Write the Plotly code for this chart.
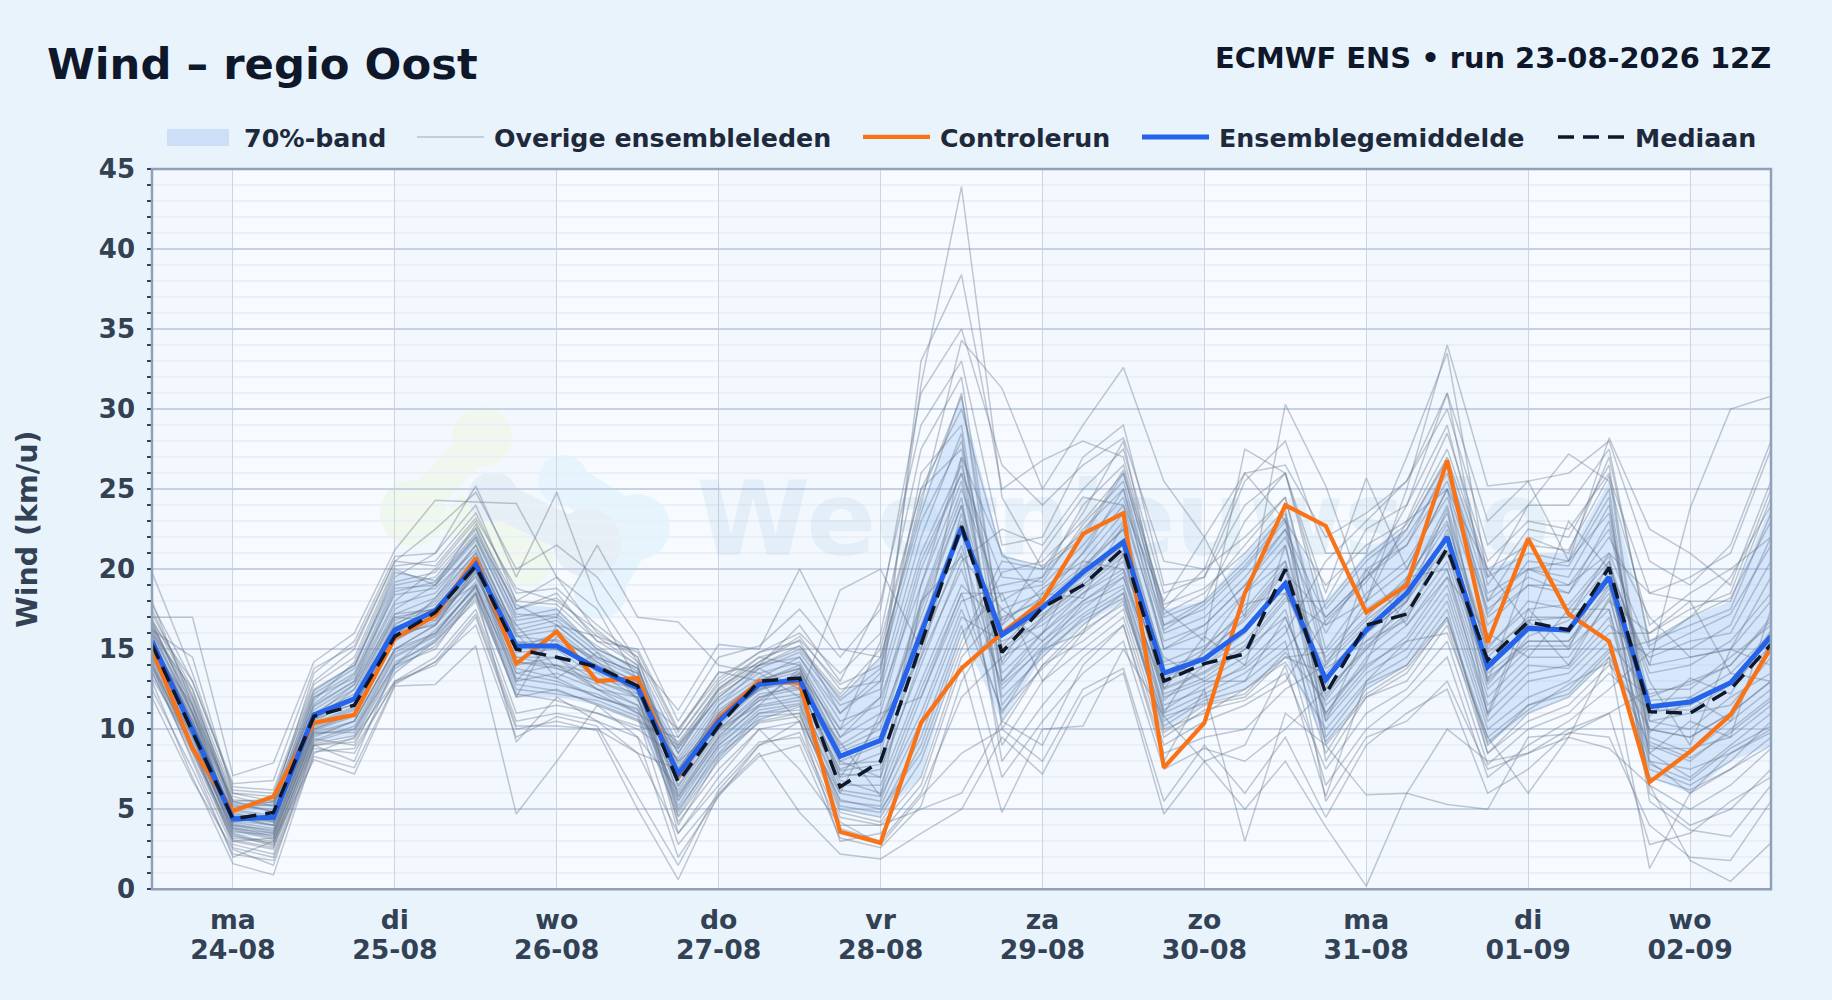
import plotly.graph_objects as go

times = ["2026-08-23 12:00","2026-08-23 18:00"]
for d in ["24","25","26","27","28","29","30","31"]:
    for h in ["00","06","12","18"]:
        times.append(f"2026-08-{d} {h}:00")
for h in ["00","06","12","18"]:
    times.append(f"2026-09-01 {h}:00")
for h in ["00","06","12"]:
    times.append(f"2026-09-02 {h}:00")

tick_dates = ["2026-08-24","2026-08-25","2026-08-26","2026-08-27","2026-08-28","2026-08-29","2026-08-30","2026-08-31","2026-09-01","2026-09-02"]
date_labels = ["24-08","25-08","26-08","27-08","28-08","29-08","30-08","31-08","01-09","02-09"]
day_labels = ["ma","di","wo","do","vr","za","zo","ma","di","wo"]

mean_values = [15.5,10,4.4,4.5,10.9,11.9,16.2,17.4,20.3,15.2,15.2,13.8,12.6,7.2,10.5,12.8,13.1,8.3,9.3,16,22.6,15.9,17.6,19.8,21.7,13.5,14.4,16.2,19.1,13.1,16.2,18.5,22,13.9,16.3,16.2,19.5,11.4,11.7,12.9,15.8]
control_values = [15,8.8,4.9,5.8,10.4,10.9,15.7,17.1,20.7,14.1,16.1,13,13.2,7,10.7,13,12.9,3.6,2.9,10.4,13.8,16,18,22.2,23.5,7.6,10.4,18.5,24,22.7,17.3,19,26.8,15.4,21.9,17.2,15.5,6.7,8.6,10.9,15.1]
median_values = [15.3,9.9,4.4,4.8,10.8,11.5,15.8,17.3,20.2,15,14.5,13.9,12.7,6.7,10.2,13,13.2,6.4,8,15.3,22.7,14.8,17.6,19,21.3,13,14.1,14.7,20,12.2,16.5,17.2,21.3,14.3,16.7,16.2,20.1,11.1,11,12.5,15.3]
band_high = [16.5,11.5,5.5,5.5,12.5,14,19.9,19.3,22.5,17.8,17.6,15,14,9.2,12,14,15,12,14.5,24,30.8,21,20,22,26,17.5,18,21,23.5,18,21,22.5,27,20,21,21,25.5,15.5,17,18,24]
band_low = [13.5,8.5,3.3,3.3,9.2,9.5,13.5,15.5,18.3,12,12,11.5,10.5,4.8,8,10.5,11.5,5,4.5,7,16,10.5,14.5,16.5,18,10,11.5,12.5,14.5,9,12.5,14,17,9,11,12,14.5,7,6,8,9]

member_01 = [19.8,13.5,6.2,6.0,12.5,14.0,19.5,21.0,24.0,18.0,19.5,16.0,14.5,9.5,13.0,14.8,15.5,11.0,13.5,31.5,43.9,24.5,20.0,23.5,28.0,16.5,18.0,23.0,26.0,16.5,19.5,24.0,31.0,18.0,22.0,21.0,27.0,15.5,17.0,19.5,24.0]
member_02 = [17.0,17.0,7.1,7.9,14.2,16.0,21.2,24.3,24.2,24.1,19.5,17.5,13.0,8.5,12.5,14.5,14.0,9.5,12.0,33.0,38.4,25.0,26.8,28.0,27.0,17.5,15.5,27.5,26.0,18.5,25.7,20.0,25.0,20.0,16.5,23.0,20.0,14.0,23.8,30.0,30.8]
member_03 = [16.2,14.5,6.0,5.5,13.5,15.5,20.8,21.0,25.2,19.5,24.8,18.0,14.2,11.2,15.3,15.0,20.0,15.0,14.5,24.0,34.3,31.3,25.0,29.0,32.6,25.5,22.0,17.0,30.3,25.2,18.0,25.0,34.0,25.2,25.5,20.5,28.2,22.5,21.0,19.0,25.5]
member_04 = [14.0,8.0,2.0,3.0,8.1,7.2,12.7,12.8,15.2,4.7,8.0,11.5,9.5,2.0,5.8,9.0,10.5,3.0,3.5,6.5,14.0,4.8,10.0,10.2,15.0,10.8,8.0,9.0,14.0,5.8,13.0,15.5,16.0,9.5,6.0,9.5,14.5,1.3,6.0,7.5,9.0]
member_05 = [13.0,7.0,1.6,0.9,8.5,9.5,13.0,14.0,17.0,10.0,10.5,9.9,5.0,0.6,6.0,8.5,4.8,2.2,1.9,3.5,5.0,9.5,7.2,12.0,13.5,4.7,8.0,5.0,8.0,3.9,0.2,6.0,10.0,8.0,8.5,9.5,8.8,6.5,1.8,0.5,2.9]
member_06 = [12.0,6.8,2.5,1.5,9.0,8.0,14.0,15.0,18.5,9.2,12.0,10.5,8.5,3.5,7.0,10.0,7.5,4.0,4.0,5.0,6.0,10.5,9.0,14.0,16.5,8.0,12.5,3.0,11.0,9.0,5.9,6.0,5.3,5.0,9.5,9.7,11.0,2.8,3.5,5.5,7.0]
member_07 = [15.0,11.5,4.0,3.5,10.5,12.5,17.5,19.0,22.0,16.5,17.0,21.5,17.0,16.7,14.0,13.5,12.0,18.7,20.0,15.0,27.0,21.0,18.0,21.0,25.0,15.0,16.5,19.0,22.5,17.0,19.5,22.0,26.0,17.0,19.0,18.5,22.0,17.0,14.5,15.0,18.0]
member_08 = [16.0,12.5,5.0,5.5,11.5,13.0,18.0,20.0,23.0,17.5,18.5,15.5,15.0,10.0,13.5,14.0,16.5,13.0,18.0,29.0,33.0,21.5,22.0,27.0,29.0,19.0,19.5,25.5,28.0,21.0,21.0,27.0,33.5,19.5,24.0,27.2,25.5,16.5,18.5,20.0,22.0]
member_09 = [14.5,9.5,3.5,2.8,9.5,10.5,15.0,16.0,19.0,13.0,13.5,12.5,11.0,9.2,12.5,14.2,15.8,12.5,13.0,26.0,29.0,13.0,15.5,17.5,19.5,11.5,12.5,14.0,16.5,8.5,12.5,14.0,17.5,8.5,11.0,12.0,14.5,10.0,9.5,11.0,13.0]
member_10 = [16.8,11.0,5.5,4.8,11.0,12.5,17.0,17.5,20.5,15.0,16.0,14.0,12.5,6.0,9.5,12.0,12.8,7.0,7.5,14.0,20.5,22.5,21.5,25.0,27.5,18.5,19.5,24.0,26.0,17.5,20.5,22.5,27.0,19.5,21.0,20.5,25.0,8.0,7.5,8.5,9.8]
member_11 = [15.2,10.5,4.5,4.0,10.0,11.0,15.5,17.0,19.5,14.5,14.0,13.5,12.0,5.0,8.5,11.0,11.2,5.5,5.2,10.5,17.0,15.5,16.5,18.5,20.5,13.0,14.0,15.5,18.5,13.0,16.0,18.0,22.0,14.0,16.5,16.0,19.5,14.0,14.5,15.0,19.5]
member_12 = [14.0,9.0,3.8,3.2,9.8,9.8,14.5,15.8,18.5,12.0,12.5,11.5,10.5,8.8,12.0,14.0,14.5,11.0,13.0,22.0,28.5,10.0,14.0,15.5,17.5,9.5,11.2,11.8,13.5,7.5,11.0,12.5,15.5,7.8,10.0,11.0,13.5,11.2,11.2,12.8,15.2]
member_13 = [17.5,12.0,5.8,5.2,12.0,13.5,19.0,19.5,22.5,17.0,17.5,15.0,13.8,7.8,11.2,13.0,13.8,8.8,10.0,18.0,25.0,18.0,19.5,22.5,25.0,16.5,17.5,20.0,23.0,19.0,21.5,23.0,28.5,20.5,23.0,22.5,26.0,8.8,8.8,9.5,11.5]
member_14 = [15.8,10.2,4.8,4.2,10.8,12.0,16.5,18.0,21.0,15.5,15.0,14.0,13.0,3.5,6.5,9.2,9.5,3.8,3.0,6.0,12.0,14.5,16.0,18.0,19.8,12.2,13.2,15.0,17.0,11.0,14.5,16.5,20.0,12.0,14.5,14.5,18.0,16.0,18.0,18.0,24.5]
member_15 = [13.5,8.5,3.0,2.5,9.0,9.2,13.5,15.5,18.0,11.0,11.5,11.0,10.0,8.2,11.8,13.5,14.2,10.0,12.0,19.0,27.0,11.5,14.8,16.8,18.2,10.2,11.8,12.5,14.2,10.0,13.0,14.5,18.0,10.0,12.0,13.0,15.5,12.2,12.8,14.0,16.8]
member_16 = [16.5,12.0,5.2,5.0,11.8,14.2,20.0,19.0,22.8,18.0,17.8,15.5,14.0,5.8,9.2,11.5,12.0,6.5,6.5,13.0,19.0,16.5,18.8,20.5,23.5,15.5,16.5,19.0,22.0,16.0,20.0,21.5,25.5,18.0,20.0,19.5,24.0,9.2,8.2,9.8,11.8]
member_17 = [15.5,11.0,4.2,3.8,10.2,11.2,16.0,17.0,20.0,14.0,14.5,13.0,12.2,10.0,13.2,14.8,16.0,13.5,16.0,27.5,32.0,15.8,17.2,19.0,21.2,13.2,14.4,16.2,19.2,14.5,17.0,19.5,23.0,15.0,18.0,17.5,20.5,5.5,3.7,3.3,6.5]
member_18 = [14.8,9.8,3.3,3.0,9.2,10.0,14.0,16.2,18.8,13.5,13.0,12.0,11.2,6.8,10.2,12.5,13.0,7.8,8.0,15.0,21.5,12.5,15.2,17.2,18.8,11.0,12.2,13.5,15.5,6.5,10.0,12.0,14.5,7.0,9.0,10.5,12.5,14.8,16.0,17.2,21.5]
member_19 = [18.0,11.5,5.5,5.6,12.2,13.8,19.8,19.3,22.2,17.8,16.5,14.5,13.5,4.0,8.2,10.8,11.0,4.8,4.2,8.0,15.0,19.8,20.5,23.0,26.0,17.2,18.5,21.5,24.5,15.0,18.5,20.5,24.5,16.5,19.0,19.0,22.5,11.8,12.0,13.5,16.0]
member_20 = [15.3,10.8,4.6,4.4,10.6,11.6,16.8,17.8,20.8,15.8,15.5,13.8,12.8,8.5,12.2,13.8,14.8,11.5,12.5,21.0,26.5,16.8,18.2,20.2,22.5,14.2,15.2,17.2,20.2,11.5,14.0,15.5,19.0,11.0,13.5,14.0,17.0,7.8,6.8,8.8,10.2]
member_21 = [13.8,8.8,2.8,2.2,8.8,8.5,13.0,14.5,17.5,10.5,11.0,10.5,9.5,6.2,9.8,11.8,12.2,7.2,7.0,14.5,20.0,12.8,15.0,17.8,19.0,11.2,12.8,13.8,16.0,20.5,23.0,25.5,30.0,21.5,24.0,24.0,27.5,15.2,17.0,18.2,23.0]
member_22 = [16.0,11.2,5.0,4.6,11.2,12.8,17.8,18.5,21.5,16.0,16.5,14.5,13.5,4.8,8.8,10.6,11.4,5.2,4.8,9.5,16.5,7.0,10.5,13.5,15.5,7.5,8.8,8.0,10.0,12.5,15.0,18.0,21.5,13.5,15.5,15.5,18.5,8.0,6.0,8.5,10.0]
member_23 = [14.5,9.2,3.6,3.4,9.6,10.5,15.0,16.5,19.2,14.2,13.8,12.8,11.5,8.0,11.5,13.2,14.5,10.5,11.5,20.5,26.0,19.5,19.2,22.8,25.5,16.2,17.8,20.2,23.2,8.0,12.0,13.0,16.5,8.5,10.5,11.5,14.0,12.0,13.0,14.0,17.0]
member_24 = [17.2,12.5,6.0,5.8,12.8,14.5,20.2,20.5,23.5,18.5,18.8,16.5,14.5,7.2,10.6,12.6,13.2,8.4,9.2,16.5,23.0,15.2,17.8,19.2,21.8,12.8,14.8,16.8,19.8,17.0,19.5,21.5,26.5,18.5,20.0,20.5,23.5,10.5,10.0,12.0,13.5]
member_25 = [15.6,10.6,4.3,4.0,10.4,11.4,16.2,17.5,20.2,14.8,15.0,13.2,12.5,5.2,9.0,11.2,11.6,6.2,5.8,11.0,17.5,11.2,13.8,16.2,17.8,10.8,11.6,12.2,14.8,11.8,15.0,17.0,20.5,12.5,15.0,15.0,17.5,7.0,6.2,7.5,9.5]
member_26 = [13.2,9.0,3.2,2.9,9.4,9.0,13.8,15.2,18.2,12.2,11.8,11.0,10.2,9.5,12.8,14.5,15.2,12.2,15.0,25.0,30.0,20.8,20.2,22.2,26.2,17.8,18.8,21.0,23.8,9.5,12.8,14.0,17.0,9.5,11.5,12.2,14.8,15.5,16.5,17.5,23.5]
member_27 = [16.4,11.8,5.4,5.2,12.0,13.2,18.8,19.0,21.8,16.8,17.2,15.0,13.8,7.5,11.0,13.1,13.8,9.0,10.5,17.0,24.0,14.8,16.8,18.8,20.8,12.6,13.6,15.2,18.2,16.5,18.0,20.0,25.0,17.5,19.5,18.5,23.0,11.0,11.5,13.0,15.5]
member_28 = [15.1,10.0,4.1,3.6,9.9,10.8,15.6,16.8,19.6,14.5,14.5,12.5,12.0,5.6,9.4,11.4,11.8,6.8,6.0,12.5,18.5,11.0,15.0,16.0,18.0,10.0,11.0,12.5,14.5,13.5,16.2,18.2,22.2,14.2,16.2,16.2,19.8,6.5,5.0,6.5,8.8]
member_29 = [14.2,8.6,3.4,2.7,9.1,9.6,14.2,15.4,18.4,12.5,12.2,11.8,10.8,2.8,5.9,8.3,9.0,3.2,2.6,5.2,13.0,17.0,18.0,20.0,23.0,14.0,14.5,17.0,20.0,10.5,13.5,15.0,18.5,10.5,13.0,13.5,16.0,16.0,17.5,18.5,25.0]
member_30 = [16.6,11.4,5.3,4.9,11.6,13.4,18.4,18.8,21.2,16.2,16.8,14.8,13.2,8.8,12.4,14.0,15.2,11.8,13.8,23.0,28.0,15.0,17.0,19.0,21.0,12.5,13.5,15.0,18.0,18.0,22.5,24.0,29.0,19.0,22.5,22.0,26.5,9.5,8.5,10.5,12.5]
member_31 = [15.4,10.3,4.4,4.2,10.3,11.3,16.4,17.2,20.4,15.2,15.3,13.6,12.4,7.6,10.8,12.9,13.6,8.6,9.6,17.8,24.5,10.5,14.0,16.5,18.5,9.8,11.5,12.0,14.5,14.8,17.5,19.2,23.5,15.2,17.5,17.8,20.8,8.5,7.0,9.0,11.0]
member_32 = [14.6,9.6,3.7,3.1,9.3,10.2,14.8,16.0,18.9,13.2,12.8,12.2,11.0,4.6,8.4,10.4,10.8,5.6,5.0,8.5,15.5,20.5,20.0,22.0,26.0,17.0,18.0,20.5,23.5,10.8,13.8,15.8,19.5,11.5,14.0,13.8,16.5,14.5,15.5,16.0,20.5]
member_33 = [17.8,13.0,6.4,6.2,13.0,15.0,20.5,20.2,23.2,18.8,18.0,16.2,14.2,9.0,12.6,14.2,15.6,12.8,14.0,24.5,30.8,16.0,17.5,19.5,21.5,13.0,14.0,16.0,19.0,5.5,9.5,10.5,13.0,7.5,8.5,10.0,11.0,12.5,12.5,14.5,16.5]
member_34 = [15.9,11.0,4.9,4.5,10.9,12.2,17.2,18.2,21.0,15.8,16.2,14.2,12.9,6.4,10.0,12.2,12.6,7.4,7.8,15.5,21.0,9.0,13.0,15.0,17.0,9.0,10.5,11.5,13.0,16.8,19.2,22.5,26.8,17.2,20.5,20.2,24.5,6.0,4.0,5.0,7.5]
member_35 = [14.9,9.4,3.9,3.3,9.7,10.0,14.6,15.9,19.0,13.8,13.2,12.0,11.3,5.5,9.0,11.0,11.5,6.0,5.5,12.0,18.0,19.0,19.5,24.0,26.5,17.5,20.0,22.0,24.5,14.2,16.8,18.8,22.8,14.8,16.8,17.0,20.2,13.5,14.0,15.5,18.5]
member_36 = [13.6,8.2,2.6,2.0,8.6,8.8,12.9,14.2,17.2,10.2,10.2,10.0,8.5,7.5,11.0,13.0,14.0,9.5,11.0,20.0,26.0,13.5,16.0,18.5,20.0,12.0,13.0,14.5,17.5,9.2,12.2,13.8,16.8,9.2,11.2,12.8,14.2,9.0,8.0,10.0,12.0]
member_37 = [16.3,11.6,5.1,5.3,11.4,13.0,18.6,19.2,22.0,17.2,17.0,15.2,13.6,6.5,10.0,12.0,12.5,7.5,8.5,17.5,24.0,12.0,14.5,17.0,18.5,10.5,12.0,13.0,15.0,17.8,20.8,22.8,27.5,20.0,21.5,21.2,25.8,18.5,19.5,21.0,27.5]
member_38 = [15.7,10.4,4.7,4.3,10.7,11.8,16.6,17.6,20.6,15.4,15.6,14.4,13.2,4.5,8.0,10.5,11.0,5.0,4.5,9.0,16.0,18.5,19.0,21.5,24.5,16.0,17.0,19.5,22.5,12.2,15.2,17.2,21.2,13.2,15.2,15.2,18.8,10.5,11.0,11.5,14.5]
member_39 = [14.3,8.9,3.1,2.6,9.0,9.4,14.0,15.6,18.6,12.8,12.4,11.6,10.6,9.0,12.0,14.0,15.0,12.0,14.5,23.5,31.0,14.0,17.0,20.0,22.5,13.5,15.0,17.5,20.5,9.0,12.0,13.5,17.0,9.0,11.5,12.5,15.0,7.5,6.5,8.0,10.5]
member_40 = [16.9,12.2,5.6,5.4,12.4,14.0,19.2,19.8,22.6,17.5,18.2,15.8,14.0,7.0,10.5,12.5,13.5,8.0,9.0,16.0,22.5,8.0,11.5,14.5,16.5,8.5,9.5,10.0,12.5,14.0,16.5,19.0,24.0,14.5,17.0,17.0,21.0,15.0,15.0,16.5,22.0]
member_41 = [15.0,10.1,4.0,3.7,10.1,11.0,15.8,16.6,19.8,14.2,14.0,13.0,12.0,4.2,7.5,10.0,10.5,4.5,4.0,7.0,14.5,17.5,18.5,21.0,24.0,15.0,16.0,18.5,21.5,12.0,15.5,17.5,21.0,13.0,15.5,15.5,19.0,10.0,9.5,11.0,13.0]
member_42 = [12.5,7.5,2.2,1.8,8.3,7.6,12.8,14.2,16.5,9.5,10.8,10.2,5.8,1.5,6.2,9.0,9.8,4.2,2.8,5.8,8.5,10.0,8.0,12.5,13.8,5.5,9.0,6.0,9.5,4.5,9.0,11.0,12.5,6.0,7.5,9.8,9.5,4.0,2.0,1.8,5.5]
member_43 = [16.7,13.0,6.6,6.8,13.8,15.2,20.5,22.5,24.8,20.0,21.5,19.5,15.8,10.5,14.5,15.2,17.5,14.5,17.5,31.0,35.0,26.5,24.0,26.5,28.2,20.5,20.0,26.0,26.5,22.0,23.5,25.5,31.0,23.0,25.5,26.0,28.0,20.5,19.0,21.5,28.0]
member_44 = [14.0,9.0,3.0,3.2,9.8,10.5,15.0,16.5,20.0,13.5,14.0,12.5,11.5,5.8,9.6,11.8,13.5,10.0,15.5,25.0,27.5,16.5,21.0,24.5,24.0,18.0,22.0,26.0,23.0,14.0,18.0,23.0,25.0,13.0,20.0,19.0,21.0,18.5,18.0,13.5,13.0]
member_45 = [15.5,10.5,4.5,4.0,10.8,12.8,17.2,17.5,19.0,12.0,16.5,15.8,14.8,9.8,13.6,13.0,10.5,6.0,11.0,12.0,18.5,18.5,13.0,16.0,21.0,11.0,15.0,18.5,20.5,12.5,20.0,16.5,19.5,16.0,14.5,17.5,17.5,8.5,10.5,9.5,17.5]
member_46 = [16.2,11.0,4.2,4.6,11.0,11.5,15.8,18.2,21.5,16.0,13.2,14.8,11.8,8.0,10.0,11.5,13.8,8.0,7.0,19.0,25.5,13.0,16.0,20.5,20.0,14.5,13.0,13.0,17.0,11.0,14.2,19.5,20.0,11.0,17.5,15.0,20.5,13.0,9.0,15.0,14.0]
member_47 = [14.8,10.0,3.8,3.5,10.0,10.9,16.0,16.5,19.8,16.5,13.8,13.0,13.0,6.8,11.5,13.8,12.5,9.2,5.8,18.0,20.8,17.5,15.5,18.0,19.5,12.5,15.8,14.0,21.5,10.5,16.0,18.0,23.8,10.8,16.8,14.0,18.2,9.8,12.0,10.5,15.5]
member_48 = [15.0,9.9,4.4,4.3,10.4,12.0,17.0,16.8,20.0,13.0,15.8,14.2,12.2,7.0,10.9,12.4,13.4,7.0,10.5,14.5,23.5,14.2,18.5,18.2,22.8,11.8,14.0,17.8,18.5,13.8,15.5,16.8,22.5,12.8,15.8,16.8,19.0,10.8,13.2,12.2,16.2]
members = [member_01,member_02,member_03,member_04,member_05,member_06,member_07,member_08,member_09,member_10,member_11,member_12,
           member_13,member_14,member_15,member_16,member_17,member_18,member_19,member_20,member_21,member_22,member_23,member_24,
           member_25,member_26,member_27,member_28,member_29,member_30,member_31,member_32,member_33,member_34,member_35,member_36,
           member_37,member_38,member_39,member_40,member_41,member_42,member_43,member_44,member_45,member_46,member_47,member_48]

W, H = 1832, 1000
FONT = "DejaVu Sans"
BG = "#E8F3FB"
SWATCH = "#CCDFF7"
fig = go.Figure()

fig.add_trace(go.Scatter(x=["2026-08-29 12:00"], y=[22.5], mode="text", text=["Weernieuws.io"], showlegend=False, hoverinfo="skip",
                         textposition="middle center",
                         textfont=dict(family=FONT, size=103, weight=700, color="rgba(30,110,170,0.07)")))
fig.add_trace(go.Scatter(x=times, y=band_low, mode="lines", line=dict(width=0, color="rgba(0,0,0,0)"), showlegend=False, hoverinfo="skip"))
fig.add_trace(go.Scatter(x=times, y=band_high, mode="lines", line=dict(width=0, color="rgba(0,0,0,0)"), fill="tonexty",
                         fillcolor="rgba(147,190,245,0.30)", showlegend=False, legendgroup="band", hoverinfo="skip"))
# legend entry of the band, opaque so it merges with the fuller swatch below
fig.add_trace(go.Scatter(x=[times[0]], y=[None], mode="lines", line=dict(width=0, color="rgba(0,0,0,0)"), fill="toself",
                         fillcolor=SWATCH, name="\u2009\u200970%-band", legend="legend", legendgroup="band"))
for i, m in enumerate(members):
    fig.add_trace(go.Scatter(x=times, y=m, mode="lines", name="\u2009Overige ensembleleden", legend="legend2", legendgroup="members", showlegend=i == 0,
                             line=dict(color="rgba(100,116,139,0.38)", width=1.5), hoverinfo="skip"))
fig.add_trace(go.Scatter(x=times, y=control_values, mode="lines", name="\u2009Controlerun", legend="legend3", line=dict(color="#F97316", width=4.2)))
fig.add_trace(go.Scatter(x=times, y=mean_values, mode="lines", name="\u2009Ensemblegemiddelde", legend="legend4", line=dict(color="#2563EB", width=5)))
fig.add_trace(go.Scatter(x=times, y=median_values, mode="lines", name="\u2009Mediaan", legend="legend5", line=dict(color="#0F172A", width=3.5, dash="16px,9px")))
# weekday row of the tick labels lives on an overlaid axis so its line spacing can be set
fig.add_trace(go.Scatter(x=tick_dates, y=[None] * len(tick_dates), xaxis="x2", mode="lines", showlegend=False, hoverinfo="skip"))

shapes = []
stripe_edges = ["2026-08-23 12:00"] + tick_dates + ["2026-09-02 12:00"]
for i in range(len(stripe_edges) - 1):
    if i % 2 == 0:
        shapes.append(dict(type="rect", xref="x", yref="y domain", x0=stripe_edges[i], x1=stripe_edges[i + 1], y0=0, y1=1,
                           fillcolor="rgba(200,220,240,0.08)", line_width=0, layer="below"))

def px_circle(cx, cy, r, col):
    return dict(type="circle", xref="paper", yref="paper", x0=(cx - r) / W, x1=(cx + r) / W,
                y0=1 - (cy + r) / H, y1=1 - (cy - r) / H, fillcolor=col, line_width=0, layer="below")

def px_line(x0, y0, x1, y1, w, col):
    return dict(type="line", xref="paper", yref="paper", x0=x0 / W, x1=x1 / W, y0=1 - y0 / H, y1=1 - y1 / H,
                line=dict(color=col, width=w), layer="below")

green = "#F0F7EC"
grey = "#E6EEF6"
blue = "#E5F4FD"
shapes += [px_line(482, 437, 413, 513, 34, green), px_circle(482, 437, 30, green), px_circle(413, 513, 33, green),
           px_line(450, 510, 527, 560, 40, green), px_circle(527, 560, 26, green),
           px_line(563, 480, 637, 527, 40, blue), px_circle(563, 480, 25, blue), px_circle(637, 527, 33, blue),
           px_line(637, 527, 600, 593, 40, blue), px_circle(600, 593, 26, blue),
           px_line(493, 497, 587, 543, 36, grey), px_circle(493, 497, 25, grey), px_circle(587, 543, 34, grey)]
shapes.append(dict(type="rect", xref="paper", yref="paper", x0=167 / W, x1=229 / W, y0=1 - 146 / H, y1=1 - 129 / H,
                   fillcolor=SWATCH, line_width=0, layer="above"))
# frame centred on the plot edges, so that zero sits on the bottom line
shapes.append(dict(type="rect", xref="x domain", yref="y domain", x0=0, x1=1, y0=0, y1=1,
                   fillcolor="rgba(0,0,0,0)", line=dict(color="#8FA0B8", width=2.5), layer="above"))

def legend_at(px, item=67):
    return dict(x=(px - 5) / W, xanchor="left", y=1 - 137 / H, yanchor="middle", bgcolor="rgba(0,0,0,0)", borderwidth=0,
                font=dict(family=FONT, size=25.3, color="#1E293B", weight=700), itemwidth=item)

fig.update_layout(
    width=W, height=H, autosize=False,
    margin=dict(l=0, r=0, t=0, b=0, autoexpand=False),
    paper_bgcolor=BG,
    plot_bgcolor="#F7FBFF",
    font=dict(family=FONT, size=25, color="#334155", weight=700),
    showlegend=True,
    legend=legend_at(167, 62), legend2=legend_at(417), legend3=legend_at(863), legend4=legend_at(1142), legend5=legend_at(1558),
    shapes=shapes,
    annotations=[
        dict(text="Wind – regio Oost", xref="paper", yref="paper", x=45 / W, y=1 - 64 / H, xanchor="left", yanchor="middle",
             showarrow=False, font=dict(family=FONT, size=43.3, color="#0F172A", weight=700)),
        dict(text="ECMWF ENS • run 23-08-2026 12Z", xref="paper", yref="paper", x=1773 / W, y=1 - 58 / H, xanchor="right", yanchor="middle",
             showarrow=False, font=dict(family=FONT, size=28.9, color="#0F172A", weight=700)),
    ],
    xaxis=dict(type="date", domain=[152 / W, 1771 / W], range=["2026-08-23 12:00", "2026-09-02 12:00"], automargin=False,
               tickmode="array", tickvals=tick_dates, ticktext=date_labels,
               tickfont=dict(family=FONT, size=26.7, color="#334155", weight=700),
               showgrid=True, gridcolor="#CDD5E3", gridwidth=1, ticks="", ticklabelstandoff=42,
               showline=False, zeroline=False),
    xaxis2=dict(type="date", overlaying="x", side="bottom", anchor="y", range=["2026-08-23 12:00", "2026-09-02 12:00"], automargin=False,
                tickmode="array", tickvals=tick_dates, ticktext=day_labels,
                tickfont=dict(family=FONT, size=26.7, color="#334155", weight=700),
                showgrid=False, ticks="", ticklabelstandoff=12, showline=False, zeroline=False),
    yaxis=dict(domain=[1 - 889.3 / H, 1 - 169 / H], range=[0, 45], tickmode="array", tickvals=[0, 5, 10, 15, 20, 25, 30, 35, 40, 45], automargin=False,
               tickfont=dict(family=FONT, size=26, color="#334155", weight=700),
               showgrid=True, gridcolor="#C6D2E4", gridwidth=2.4, ticks="", ticklabelstandoff=16,
               minor=dict(dtick=1, tick0=0, ticks="outside", ticklen=4, tickcolor="#334155", tickwidth=1.5,
                          showgrid=True, gridcolor="#EBF0F7", gridwidth=2),
               showline=False, zeroline=False,
               title=dict(text="Wind (km/u)", font=dict(family=FONT, size=28.5, color="#334155", weight=700), standoff=52)),
)

fig.write_html("out.html", config={"displayModeBar": False},
               post_script="document.body.style.margin='0';document.body.style.background='#E8F3FB';document.documentElement.style.overflow='hidden';")
